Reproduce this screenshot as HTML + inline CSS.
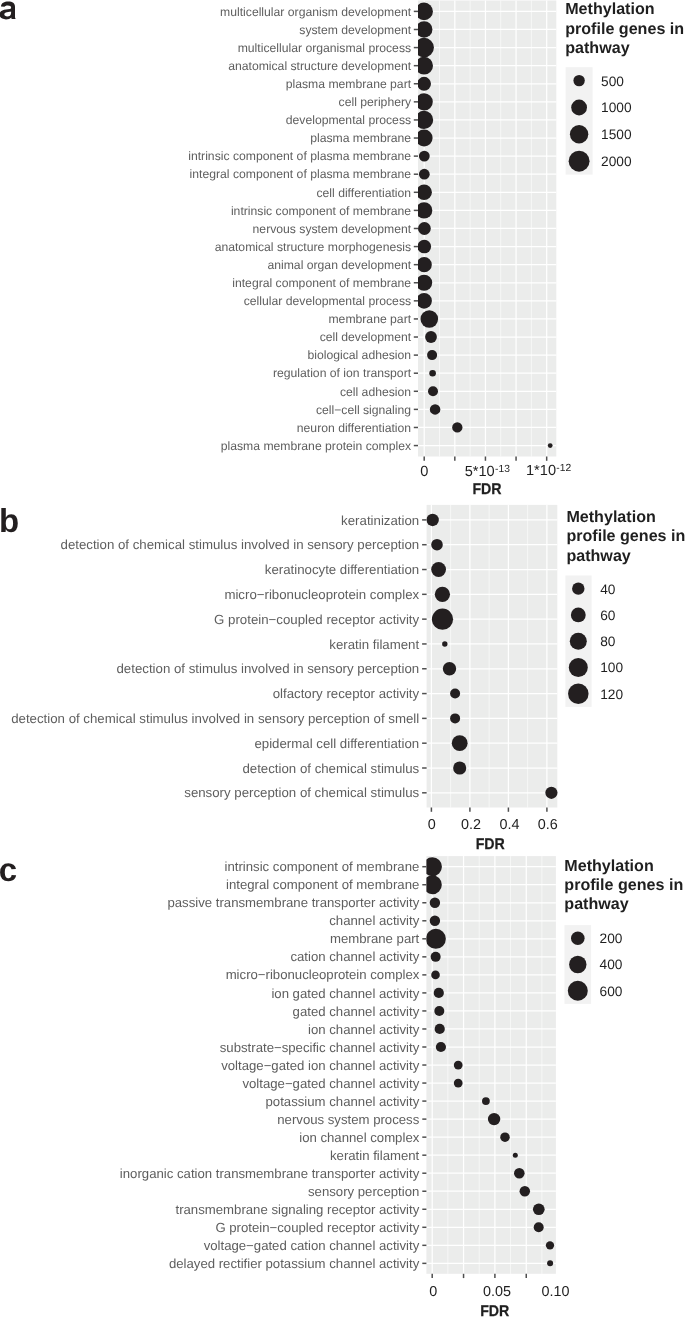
<!DOCTYPE html>
<html><head><meta charset="utf-8"><title>Enrichment dot plots</title>
<style>
html,body{margin:0;padding:0;background:#fff;width:685px;height:1317px;overflow:hidden;}
svg{display:block;will-change:transform;}
text{font-family:"Liberation Sans",sans-serif;text-rendering:geometricPrecision;}
</style></head>
<body>
<svg width="685" height="1317" viewBox="0 0 685 1317">
<rect x="418" y="0.5" width="138.3" height="456" fill="#ebeceb"/>
<line x1="439.5" y1="0.5" x2="439.5" y2="456.5" stroke="#fff" stroke-opacity="0.75" stroke-width="0.8"/>
<line x1="470.12" y1="0.5" x2="470.12" y2="456.5" stroke="#fff" stroke-opacity="0.75" stroke-width="0.8"/>
<line x1="500.74" y1="0.5" x2="500.74" y2="456.5" stroke="#fff" stroke-opacity="0.75" stroke-width="0.8"/>
<line x1="531.36" y1="0.5" x2="531.36" y2="456.5" stroke="#fff" stroke-opacity="0.75" stroke-width="0.8"/>
<line x1="424.2" y1="0.5" x2="424.2" y2="456.5" stroke="#fff" stroke-width="1.25"/>
<line x1="454.82" y1="0.5" x2="454.82" y2="456.5" stroke="#fff" stroke-width="1.25"/>
<line x1="485.44" y1="0.5" x2="485.44" y2="456.5" stroke="#fff" stroke-width="1.25"/>
<line x1="516.06" y1="0.5" x2="516.06" y2="456.5" stroke="#fff" stroke-width="1.25"/>
<line x1="546.68" y1="0.5" x2="546.68" y2="456.5" stroke="#fff" stroke-width="1.25"/>
<line x1="418" y1="11.4" x2="556.3" y2="11.4" stroke="#fff" stroke-width="1.25"/>
<line x1="418" y1="29.49" x2="556.3" y2="29.49" stroke="#fff" stroke-width="1.25"/>
<line x1="418" y1="47.58" x2="556.3" y2="47.58" stroke="#fff" stroke-width="1.25"/>
<line x1="418" y1="65.67" x2="556.3" y2="65.67" stroke="#fff" stroke-width="1.25"/>
<line x1="418" y1="83.76" x2="556.3" y2="83.76" stroke="#fff" stroke-width="1.25"/>
<line x1="418" y1="101.85" x2="556.3" y2="101.85" stroke="#fff" stroke-width="1.25"/>
<line x1="418" y1="119.94" x2="556.3" y2="119.94" stroke="#fff" stroke-width="1.25"/>
<line x1="418" y1="138.03" x2="556.3" y2="138.03" stroke="#fff" stroke-width="1.25"/>
<line x1="418" y1="156.12" x2="556.3" y2="156.12" stroke="#fff" stroke-width="1.25"/>
<line x1="418" y1="174.21" x2="556.3" y2="174.21" stroke="#fff" stroke-width="1.25"/>
<line x1="418" y1="192.3" x2="556.3" y2="192.3" stroke="#fff" stroke-width="1.25"/>
<line x1="418" y1="210.39" x2="556.3" y2="210.39" stroke="#fff" stroke-width="1.25"/>
<line x1="418" y1="228.48" x2="556.3" y2="228.48" stroke="#fff" stroke-width="1.25"/>
<line x1="418" y1="246.57" x2="556.3" y2="246.57" stroke="#fff" stroke-width="1.25"/>
<line x1="418" y1="264.66" x2="556.3" y2="264.66" stroke="#fff" stroke-width="1.25"/>
<line x1="418" y1="282.75" x2="556.3" y2="282.75" stroke="#fff" stroke-width="1.25"/>
<line x1="418" y1="300.84" x2="556.3" y2="300.84" stroke="#fff" stroke-width="1.25"/>
<line x1="418" y1="318.93" x2="556.3" y2="318.93" stroke="#fff" stroke-width="1.25"/>
<line x1="418" y1="337.02" x2="556.3" y2="337.02" stroke="#fff" stroke-width="1.25"/>
<line x1="418" y1="355.11" x2="556.3" y2="355.11" stroke="#fff" stroke-width="1.25"/>
<line x1="418" y1="373.2" x2="556.3" y2="373.2" stroke="#fff" stroke-width="1.25"/>
<line x1="418" y1="391.29" x2="556.3" y2="391.29" stroke="#fff" stroke-width="1.25"/>
<line x1="418" y1="409.38" x2="556.3" y2="409.38" stroke="#fff" stroke-width="1.25"/>
<line x1="418" y1="427.47" x2="556.3" y2="427.47" stroke="#fff" stroke-width="1.25"/>
<line x1="418" y1="445.56" x2="556.3" y2="445.56" stroke="#fff" stroke-width="1.25"/>
<clipPath id="ca"><rect x="418" y="-19.5" width="158.3" height="496"/></clipPath>
<g clip-path="url(#ca)" fill="#231f20">
<circle cx="424.1" cy="11.4" r="8.8"/>
<circle cx="424.1" cy="29.49" r="8.3"/>
<circle cx="424.1" cy="47.58" r="9.8"/>
<circle cx="424.1" cy="65.67" r="8.9"/>
<circle cx="424.1" cy="83.76" r="6.9"/>
<circle cx="424.1" cy="101.85" r="8.7"/>
<circle cx="424.1" cy="119.94" r="9.1"/>
<circle cx="424.1" cy="138.03" r="8.5"/>
<circle cx="424.3" cy="156.12" r="5.4"/>
<circle cx="424.3" cy="174.21" r="5.4"/>
<circle cx="424.1" cy="192.3" r="7.8"/>
<circle cx="424.1" cy="210.39" r="8.2"/>
<circle cx="424.4" cy="228.48" r="6.4"/>
<circle cx="424.3" cy="246.57" r="6.8"/>
<circle cx="424.2" cy="264.66" r="7.6"/>
<circle cx="424.1" cy="282.75" r="8.1"/>
<circle cx="424.1" cy="300.84" r="7.8"/>
<circle cx="429.3" cy="318.93" r="8.8"/>
<circle cx="431" cy="337.02" r="5.9"/>
<circle cx="432.1" cy="355.11" r="5"/>
<circle cx="432.6" cy="373.2" r="3.3"/>
<circle cx="433" cy="391.29" r="5"/>
<circle cx="435.1" cy="409.38" r="5.25"/>
<circle cx="457.3" cy="427.47" r="5.15"/>
<circle cx="550.2" cy="445.56" r="2.4"/>
</g>
<g stroke="#4f4f4f" stroke-width="1.5">
<line x1="413.8" y1="11.4" x2="418" y2="11.4"/>
<line x1="413.8" y1="29.49" x2="418" y2="29.49"/>
<line x1="413.8" y1="47.58" x2="418" y2="47.58"/>
<line x1="413.8" y1="65.67" x2="418" y2="65.67"/>
<line x1="413.8" y1="83.76" x2="418" y2="83.76"/>
<line x1="413.8" y1="101.85" x2="418" y2="101.85"/>
<line x1="413.8" y1="119.94" x2="418" y2="119.94"/>
<line x1="413.8" y1="138.03" x2="418" y2="138.03"/>
<line x1="413.8" y1="156.12" x2="418" y2="156.12"/>
<line x1="413.8" y1="174.21" x2="418" y2="174.21"/>
<line x1="413.8" y1="192.3" x2="418" y2="192.3"/>
<line x1="413.8" y1="210.39" x2="418" y2="210.39"/>
<line x1="413.8" y1="228.48" x2="418" y2="228.48"/>
<line x1="413.8" y1="246.57" x2="418" y2="246.57"/>
<line x1="413.8" y1="264.66" x2="418" y2="264.66"/>
<line x1="413.8" y1="282.75" x2="418" y2="282.75"/>
<line x1="413.8" y1="300.84" x2="418" y2="300.84"/>
<line x1="413.8" y1="318.93" x2="418" y2="318.93"/>
<line x1="413.8" y1="337.02" x2="418" y2="337.02"/>
<line x1="413.8" y1="355.11" x2="418" y2="355.11"/>
<line x1="413.8" y1="373.2" x2="418" y2="373.2"/>
<line x1="413.8" y1="391.29" x2="418" y2="391.29"/>
<line x1="413.8" y1="409.38" x2="418" y2="409.38"/>
<line x1="413.8" y1="427.47" x2="418" y2="427.47"/>
<line x1="413.8" y1="445.56" x2="418" y2="445.56"/>
<line x1="424.2" y1="456.5" x2="424.2" y2="460.8"/>
<line x1="454.82" y1="456.5" x2="454.82" y2="460.8"/>
<line x1="485.44" y1="456.5" x2="485.44" y2="460.8"/>
<line x1="516.06" y1="456.5" x2="516.06" y2="460.8"/>
<line x1="546.68" y1="456.5" x2="546.68" y2="460.8"/>
</g>
<g font-size="12.2" fill="#5e5e5e" text-anchor="end">
<text x="411.1" y="15.67">multicellular organism development</text>
<text x="411.1" y="33.76">system development</text>
<text x="411.1" y="51.85">multicellular organismal process</text>
<text x="411.1" y="69.94">anatomical structure development</text>
<text x="411.1" y="88.03">plasma membrane part</text>
<text x="411.1" y="106.12">cell periphery</text>
<text x="411.1" y="124.21">developmental process</text>
<text x="411.1" y="142.3">plasma membrane</text>
<text x="411.1" y="160.39">intrinsic component of plasma membrane</text>
<text x="411.1" y="178.48">integral component of plasma membrane</text>
<text x="411.1" y="196.57">cell differentiation</text>
<text x="411.1" y="214.66">intrinsic component of membrane</text>
<text x="411.1" y="232.75">nervous system development</text>
<text x="411.1" y="250.84">anatomical structure morphogenesis</text>
<text x="411.1" y="268.93">animal organ development</text>
<text x="411.1" y="287.02">integral component of membrane</text>
<text x="411.1" y="305.11">cellular developmental process</text>
<text x="411.1" y="323.2">membrane part</text>
<text x="411.1" y="341.29">cell development</text>
<text x="411.1" y="359.38">biological adhesion</text>
<text x="411.1" y="377.47">regulation of ion transport</text>
<text x="411.1" y="395.56">cell adhesion</text>
<text x="411.1" y="413.65">cell−cell signaling</text>
<text x="411.1" y="431.74">neuron differentiation</text>
<text x="411.1" y="449.83">plasma membrane protein complex</text>
</g>
<g font-size="14.6" fill="#1f1f1f" text-anchor="middle">
<text x="424.2" y="475.9">0</text>
<text x="487.3" y="475.5">5*10<tspan font-size="10.3" dx="0.3" dy="-3.5">-13</tspan></text>
<text x="548.6" y="474.8">1*10<tspan font-size="10.3" dx="0.3" dy="-3.5">-12</tspan></text>
</g>
<text x="472.4" y="493.6" font-size="15.6" font-weight="bold" fill="#1f1f1f" stroke="#1f1f1f" stroke-width="0.25" textLength="29.2" lengthAdjust="spacingAndGlyphs">FDR</text>
<g font-size="16.1" font-weight="bold" fill="#1f1f1f">
<text x="565.2" y="14">Methylation</text>
<text x="565.2" y="33.5">profile genes in</text>
<text x="565.2" y="53">pathway</text>
</g>
<rect x="565.6" y="67.2" width="27" height="107.4" fill="#f2f2f2"/>
<g fill="#231f20">
<circle cx="579.1" cy="80.62" r="5.7"/>
<circle cx="579.1" cy="107.48" r="7.9"/>
<circle cx="579.1" cy="134.32" r="9.2"/>
<circle cx="579.1" cy="161.18" r="10.45"/>
</g>
<g font-size="13.7" fill="#1f1f1f">
<text x="601.1" y="85.53">500</text>
<text x="601.1" y="112.38">1000</text>
<text x="601.1" y="139.23">1500</text>
<text x="601.1" y="166.08">2000</text>
</g>
<rect x="426.6" y="504.9" width="130.7" height="302.6" fill="#ebeceb"/>
<line x1="450.65" y1="504.9" x2="450.65" y2="807.5" stroke="#fff" stroke-opacity="0.75" stroke-width="0.8"/>
<line x1="489.15" y1="504.9" x2="489.15" y2="807.5" stroke="#fff" stroke-opacity="0.75" stroke-width="0.8"/>
<line x1="527.65" y1="504.9" x2="527.65" y2="807.5" stroke="#fff" stroke-opacity="0.75" stroke-width="0.8"/>
<line x1="431.4" y1="504.9" x2="431.4" y2="807.5" stroke="#fff" stroke-width="1.25"/>
<line x1="469.9" y1="504.9" x2="469.9" y2="807.5" stroke="#fff" stroke-width="1.25"/>
<line x1="508.4" y1="504.9" x2="508.4" y2="807.5" stroke="#fff" stroke-width="1.25"/>
<line x1="546.9" y1="504.9" x2="546.9" y2="807.5" stroke="#fff" stroke-width="1.25"/>
<line x1="426.6" y1="519.9" x2="557.3" y2="519.9" stroke="#fff" stroke-width="1.25"/>
<line x1="426.6" y1="544.71" x2="557.3" y2="544.71" stroke="#fff" stroke-width="1.25"/>
<line x1="426.6" y1="569.52" x2="557.3" y2="569.52" stroke="#fff" stroke-width="1.25"/>
<line x1="426.6" y1="594.33" x2="557.3" y2="594.33" stroke="#fff" stroke-width="1.25"/>
<line x1="426.6" y1="619.14" x2="557.3" y2="619.14" stroke="#fff" stroke-width="1.25"/>
<line x1="426.6" y1="643.95" x2="557.3" y2="643.95" stroke="#fff" stroke-width="1.25"/>
<line x1="426.6" y1="668.76" x2="557.3" y2="668.76" stroke="#fff" stroke-width="1.25"/>
<line x1="426.6" y1="693.57" x2="557.3" y2="693.57" stroke="#fff" stroke-width="1.25"/>
<line x1="426.6" y1="718.38" x2="557.3" y2="718.38" stroke="#fff" stroke-width="1.25"/>
<line x1="426.6" y1="743.19" x2="557.3" y2="743.19" stroke="#fff" stroke-width="1.25"/>
<line x1="426.6" y1="768" x2="557.3" y2="768" stroke="#fff" stroke-width="1.25"/>
<line x1="426.6" y1="792.81" x2="557.3" y2="792.81" stroke="#fff" stroke-width="1.25"/>
<clipPath id="cb"><rect x="426.6" y="484.9" width="150.7" height="342.6"/></clipPath>
<g clip-path="url(#cb)" fill="#231f20">
<circle cx="432.6" cy="519.9" r="6.25"/>
<circle cx="437" cy="544.71" r="5.8"/>
<circle cx="438.6" cy="569.52" r="7.4"/>
<circle cx="442.4" cy="594.33" r="7.6"/>
<circle cx="442.5" cy="619.14" r="10.6"/>
<circle cx="444.8" cy="643.95" r="2.7"/>
<circle cx="449.5" cy="668.76" r="6.7"/>
<circle cx="455.1" cy="693.57" r="5"/>
<circle cx="455.1" cy="718.38" r="5"/>
<circle cx="459.7" cy="743.19" r="7.9"/>
<circle cx="459.7" cy="768" r="6.55"/>
<circle cx="551.4" cy="792.81" r="6.1"/>
</g>
<g stroke="#4f4f4f" stroke-width="1.5">
<line x1="422.1" y1="519.9" x2="426.6" y2="519.9"/>
<line x1="422.1" y1="544.71" x2="426.6" y2="544.71"/>
<line x1="422.1" y1="569.52" x2="426.6" y2="569.52"/>
<line x1="422.1" y1="594.33" x2="426.6" y2="594.33"/>
<line x1="422.1" y1="619.14" x2="426.6" y2="619.14"/>
<line x1="422.1" y1="643.95" x2="426.6" y2="643.95"/>
<line x1="422.1" y1="668.76" x2="426.6" y2="668.76"/>
<line x1="422.1" y1="693.57" x2="426.6" y2="693.57"/>
<line x1="422.1" y1="718.38" x2="426.6" y2="718.38"/>
<line x1="422.1" y1="743.19" x2="426.6" y2="743.19"/>
<line x1="422.1" y1="768" x2="426.6" y2="768"/>
<line x1="422.1" y1="792.81" x2="426.6" y2="792.81"/>
<line x1="431.4" y1="807.5" x2="431.4" y2="811.8"/>
<line x1="469.9" y1="807.5" x2="469.9" y2="811.8"/>
<line x1="508.4" y1="807.5" x2="508.4" y2="811.8"/>
<line x1="546.9" y1="807.5" x2="546.9" y2="811.8"/>
</g>
<g font-size="13.25" fill="#5e5e5e" text-anchor="end">
<text x="419.2" y="524.54">keratinization</text>
<text x="419.2" y="549.35">detection of chemical stimulus involved in sensory perception</text>
<text x="419.2" y="574.16">keratinocyte differentiation</text>
<text x="419.2" y="598.97">micro−ribonucleoprotein complex</text>
<text x="419.2" y="623.78">G protein−coupled receptor activity</text>
<text x="419.2" y="648.59">keratin filament</text>
<text x="419.2" y="673.4">detection of stimulus involved in sensory perception</text>
<text x="419.2" y="698.21">olfactory receptor activity</text>
<text x="419.2" y="723.02">detection of chemical stimulus involved in sensory perception of smell</text>
<text x="419.2" y="747.83">epidermal cell differentiation</text>
<text x="419.2" y="772.64">detection of chemical stimulus</text>
<text x="419.2" y="797.45">sensory perception of chemical stimulus</text>
</g>
<g font-size="14.4" fill="#1f1f1f" text-anchor="middle">
<text x="431.8" y="829.4">0</text>
<text x="471" y="829.4">0.2</text>
<text x="509.6" y="829.4">0.4</text>
<text x="547.8" y="829.4">0.6</text>
</g>
<text x="475.7" y="849" font-size="15.6" font-weight="bold" fill="#1f1f1f" stroke="#1f1f1f" stroke-width="0.25" textLength="29.2" lengthAdjust="spacingAndGlyphs">FDR</text>
<g font-size="16.1" font-weight="bold" fill="#1f1f1f">
<text x="566.4" y="521.9">Methylation</text>
<text x="566.4" y="541.2">profile genes in</text>
<text x="566.4" y="560.5">pathway</text>
</g>
<rect x="565.4" y="575.5" width="26.2" height="131.4" fill="#f2f2f2"/>
<g fill="#231f20">
<circle cx="578.3" cy="588.64" r="6.2"/>
<circle cx="578.3" cy="614.92" r="7.4"/>
<circle cx="578.3" cy="641.2" r="8.5"/>
<circle cx="578.3" cy="667.48" r="9.5"/>
<circle cx="578.3" cy="693.76" r="10.25"/>
</g>
<g font-size="13.7" fill="#1f1f1f">
<text x="600.2" y="593.54">40</text>
<text x="600.2" y="619.82">60</text>
<text x="600.2" y="646.1">80</text>
<text x="600.2" y="672.38">100</text>
<text x="600.2" y="698.66">120</text>
</g>
<rect x="426.4" y="856.1" width="129.5" height="417.7" fill="#ebeceb"/>
<line x1="447.85" y1="856.1" x2="447.85" y2="1273.8" stroke="#fff" stroke-opacity="0.75" stroke-width="0.8"/>
<line x1="479.2" y1="856.1" x2="479.2" y2="1273.8" stroke="#fff" stroke-opacity="0.75" stroke-width="0.8"/>
<line x1="510.55" y1="856.1" x2="510.55" y2="1273.8" stroke="#fff" stroke-opacity="0.75" stroke-width="0.8"/>
<line x1="541.9" y1="856.1" x2="541.9" y2="1273.8" stroke="#fff" stroke-opacity="0.75" stroke-width="0.8"/>
<line x1="432.2" y1="856.1" x2="432.2" y2="1273.8" stroke="#fff" stroke-width="1.25"/>
<line x1="463.55" y1="856.1" x2="463.55" y2="1273.8" stroke="#fff" stroke-width="1.25"/>
<line x1="494.9" y1="856.1" x2="494.9" y2="1273.8" stroke="#fff" stroke-width="1.25"/>
<line x1="526.25" y1="856.1" x2="526.25" y2="1273.8" stroke="#fff" stroke-width="1.25"/>
<line x1="426.4" y1="866.7" x2="555.9" y2="866.7" stroke="#fff" stroke-width="1.25"/>
<line x1="426.4" y1="884.73" x2="555.9" y2="884.73" stroke="#fff" stroke-width="1.25"/>
<line x1="426.4" y1="902.76" x2="555.9" y2="902.76" stroke="#fff" stroke-width="1.25"/>
<line x1="426.4" y1="920.79" x2="555.9" y2="920.79" stroke="#fff" stroke-width="1.25"/>
<line x1="426.4" y1="938.82" x2="555.9" y2="938.82" stroke="#fff" stroke-width="1.25"/>
<line x1="426.4" y1="956.85" x2="555.9" y2="956.85" stroke="#fff" stroke-width="1.25"/>
<line x1="426.4" y1="974.88" x2="555.9" y2="974.88" stroke="#fff" stroke-width="1.25"/>
<line x1="426.4" y1="992.91" x2="555.9" y2="992.91" stroke="#fff" stroke-width="1.25"/>
<line x1="426.4" y1="1010.94" x2="555.9" y2="1010.94" stroke="#fff" stroke-width="1.25"/>
<line x1="426.4" y1="1028.97" x2="555.9" y2="1028.97" stroke="#fff" stroke-width="1.25"/>
<line x1="426.4" y1="1047" x2="555.9" y2="1047" stroke="#fff" stroke-width="1.25"/>
<line x1="426.4" y1="1065.03" x2="555.9" y2="1065.03" stroke="#fff" stroke-width="1.25"/>
<line x1="426.4" y1="1083.06" x2="555.9" y2="1083.06" stroke="#fff" stroke-width="1.25"/>
<line x1="426.4" y1="1101.09" x2="555.9" y2="1101.09" stroke="#fff" stroke-width="1.25"/>
<line x1="426.4" y1="1119.12" x2="555.9" y2="1119.12" stroke="#fff" stroke-width="1.25"/>
<line x1="426.4" y1="1137.15" x2="555.9" y2="1137.15" stroke="#fff" stroke-width="1.25"/>
<line x1="426.4" y1="1155.18" x2="555.9" y2="1155.18" stroke="#fff" stroke-width="1.25"/>
<line x1="426.4" y1="1173.21" x2="555.9" y2="1173.21" stroke="#fff" stroke-width="1.25"/>
<line x1="426.4" y1="1191.24" x2="555.9" y2="1191.24" stroke="#fff" stroke-width="1.25"/>
<line x1="426.4" y1="1209.27" x2="555.9" y2="1209.27" stroke="#fff" stroke-width="1.25"/>
<line x1="426.4" y1="1227.3" x2="555.9" y2="1227.3" stroke="#fff" stroke-width="1.25"/>
<line x1="426.4" y1="1245.33" x2="555.9" y2="1245.33" stroke="#fff" stroke-width="1.25"/>
<line x1="426.4" y1="1263.36" x2="555.9" y2="1263.36" stroke="#fff" stroke-width="1.25"/>
<clipPath id="cc"><rect x="426.4" y="836.1" width="149.5" height="457.7"/></clipPath>
<g clip-path="url(#cc)" fill="#231f20">
<circle cx="432.4" cy="866.7" r="9.5"/>
<circle cx="432.4" cy="884.73" r="9.4"/>
<circle cx="434.9" cy="902.76" r="5.2"/>
<circle cx="434.9" cy="920.79" r="5.2"/>
<circle cx="435.85" cy="938.82" r="10"/>
<circle cx="435.65" cy="956.85" r="5"/>
<circle cx="435.5" cy="974.88" r="4.3"/>
<circle cx="438.8" cy="992.91" r="5.1"/>
<circle cx="439.3" cy="1010.94" r="5"/>
<circle cx="439.7" cy="1028.97" r="5.1"/>
<circle cx="440.9" cy="1047" r="5.1"/>
<circle cx="458.2" cy="1065.03" r="4.4"/>
<circle cx="458.2" cy="1083.06" r="4.4"/>
<circle cx="485.9" cy="1101.09" r="3.9"/>
<circle cx="494.1" cy="1119.12" r="6.2"/>
<circle cx="505" cy="1137.15" r="4.75"/>
<circle cx="515.3" cy="1155.18" r="2.5"/>
<circle cx="519.3" cy="1173.21" r="5.3"/>
<circle cx="524.8" cy="1191.24" r="5.25"/>
<circle cx="538.8" cy="1209.27" r="5.85"/>
<circle cx="538.7" cy="1227.3" r="5"/>
<circle cx="550" cy="1245.33" r="4.15"/>
<circle cx="550.1" cy="1263.36" r="3"/>
</g>
<g stroke="#4f4f4f" stroke-width="1.5">
<line x1="422.3" y1="866.7" x2="426.4" y2="866.7"/>
<line x1="422.3" y1="884.73" x2="426.4" y2="884.73"/>
<line x1="422.3" y1="902.76" x2="426.4" y2="902.76"/>
<line x1="422.3" y1="920.79" x2="426.4" y2="920.79"/>
<line x1="422.3" y1="938.82" x2="426.4" y2="938.82"/>
<line x1="422.3" y1="956.85" x2="426.4" y2="956.85"/>
<line x1="422.3" y1="974.88" x2="426.4" y2="974.88"/>
<line x1="422.3" y1="992.91" x2="426.4" y2="992.91"/>
<line x1="422.3" y1="1010.94" x2="426.4" y2="1010.94"/>
<line x1="422.3" y1="1028.97" x2="426.4" y2="1028.97"/>
<line x1="422.3" y1="1047" x2="426.4" y2="1047"/>
<line x1="422.3" y1="1065.03" x2="426.4" y2="1065.03"/>
<line x1="422.3" y1="1083.06" x2="426.4" y2="1083.06"/>
<line x1="422.3" y1="1101.09" x2="426.4" y2="1101.09"/>
<line x1="422.3" y1="1119.12" x2="426.4" y2="1119.12"/>
<line x1="422.3" y1="1137.15" x2="426.4" y2="1137.15"/>
<line x1="422.3" y1="1155.18" x2="426.4" y2="1155.18"/>
<line x1="422.3" y1="1173.21" x2="426.4" y2="1173.21"/>
<line x1="422.3" y1="1191.24" x2="426.4" y2="1191.24"/>
<line x1="422.3" y1="1209.27" x2="426.4" y2="1209.27"/>
<line x1="422.3" y1="1227.3" x2="426.4" y2="1227.3"/>
<line x1="422.3" y1="1245.33" x2="426.4" y2="1245.33"/>
<line x1="422.3" y1="1263.36" x2="426.4" y2="1263.36"/>
<line x1="432.2" y1="1273.8" x2="432.2" y2="1278.1"/>
<line x1="463.55" y1="1273.8" x2="463.55" y2="1278.1"/>
<line x1="494.9" y1="1273.8" x2="494.9" y2="1278.1"/>
<line x1="526.25" y1="1273.8" x2="526.25" y2="1278.1"/>
</g>
<g font-size="13.18" fill="#5e5e5e" text-anchor="end">
<text x="419.3" y="871.31">intrinsic component of membrane</text>
<text x="419.3" y="889.34">integral component of membrane</text>
<text x="419.3" y="907.37">passive transmembrane transporter activity</text>
<text x="419.3" y="925.4">channel activity</text>
<text x="419.3" y="943.43">membrane part</text>
<text x="419.3" y="961.46">cation channel activity</text>
<text x="419.3" y="979.49">micro−ribonucleoprotein complex</text>
<text x="419.3" y="997.52">ion gated channel activity</text>
<text x="419.3" y="1015.55">gated channel activity</text>
<text x="419.3" y="1033.58">ion channel activity</text>
<text x="419.3" y="1051.61">substrate−specific channel activity</text>
<text x="419.3" y="1069.64">voltage−gated ion channel activity</text>
<text x="419.3" y="1087.67">voltage−gated channel activity</text>
<text x="419.3" y="1105.7">potassium channel activity</text>
<text x="419.3" y="1123.73">nervous system process</text>
<text x="419.3" y="1141.76">ion channel complex</text>
<text x="419.3" y="1159.79">keratin filament</text>
<text x="419.3" y="1177.82">inorganic cation transmembrane transporter activity</text>
<text x="419.3" y="1195.85">sensory perception</text>
<text x="419.3" y="1213.88">transmembrane signaling receptor activity</text>
<text x="419.3" y="1231.91">G protein−coupled receptor activity</text>
<text x="419.3" y="1249.94">voltage−gated cation channel activity</text>
<text x="419.3" y="1267.97">delayed rectifier potassium channel activity</text>
</g>
<g font-size="14.4" fill="#1f1f1f" text-anchor="middle">
<text x="433.2" y="1296.3">0</text>
<text x="497" y="1296.3">0.05</text>
<text x="555.6" y="1296.3">0.10</text>
</g>
<text x="480.2" y="1316.3" font-size="15.6" font-weight="bold" fill="#1f1f1f" stroke="#1f1f1f" stroke-width="0.25" textLength="29.2" lengthAdjust="spacingAndGlyphs">FDR</text>
<g font-size="16.1" font-weight="bold" fill="#1f1f1f">
<text x="564.3" y="870.7">Methylation</text>
<text x="564.3" y="890">profile genes in</text>
<text x="564.3" y="909.3">pathway</text>
</g>
<rect x="564.5" y="925.1" width="26.6" height="78.81" fill="#f2f2f2"/>
<g fill="#231f20">
<circle cx="577.8" cy="938.24" r="6.8"/>
<circle cx="577.8" cy="964.5" r="8.7"/>
<circle cx="577.8" cy="990.77" r="10"/>
</g>
<g font-size="13.7" fill="#1f1f1f">
<text x="599.6" y="943.14">200</text>
<text x="599.6" y="969.41">400</text>
<text x="599.6" y="995.68">600</text>
</g>
<g font-size="33" font-weight="bold" fill="#231f20">
</g>
<path fill="#231f20" fill-rule="evenodd" d="M1.0 6.5C1.2 3.1 4.3 1.6 8.2 1.6C12.6 1.6 15.0 3.3 15.0 6.8L15.0 17.0Q15.1 18.3 15.8 19.0L11.6 19.0Q11.4 18.4 11.4 17.6C10.1 18.9 8.3 19.4 6.0 19.4C2.3 19.4 -0.5 17.6 -0.5 14.6C-0.5 11.0 2.5 10.0 6.0 9.5L9.9 9.0C10.8 8.8 11.1 8.4 11.1 7.5C11.1 6.2 10.0 5.4 7.9 5.4C5.8 5.4 4.9 6.0 4.6 6.7Z M11.1 11.4L11.1 12.9C11.1 15.3 9.4 16.4 7.3 16.4C5.6 16.4 4.3 15.6 4.3 14.3C4.3 12.9 5.4 12.5 6.9 12.2L9.6 11.8C10.3 11.7 10.8 11.6 11.1 11.4Z"/>
<g font-size="33" font-weight="bold" fill="#231f20">
<text x="-1.1" y="531.8">b</text>
<text x="-1.3" y="880.9">c</text>
</g>
</svg>
</body></html>
